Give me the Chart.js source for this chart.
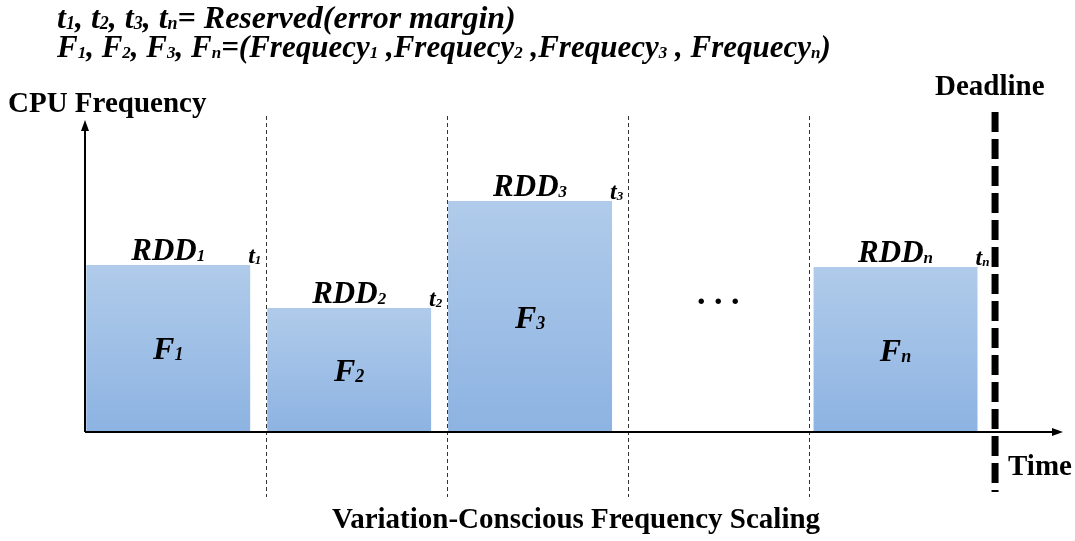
<!DOCTYPE html>
<html>
<head>
<meta charset="utf-8">
<script src="https://cdn.jsdelivr.net/npm/chart.js@4.4.0/dist/chart.umd.min.js"></script>
<style>
  html, body { margin: 0; padding: 0; background: #fff; }
</style>
</head>
<body>
<canvas id="myChart" width="1075" height="541"></canvas>
<script>
// task data (time in slot units, frequency in arbitrary units)
const taskSubs = ['1', '2', '3', 'n'];
const taskTimes = [0.46, 1.46, 2.46, 4.48];
const taskFreqs = [5.39, 4.0, 7.45, 5.32];
const slotBounds = [1, 2, 3, 4];
const gapSlot = 3.5;          // empty slot with the dots
const deadlineTime = 5.03;
const timeMax = 5.4;
const freqMax = 10;

const headerLines = [
  't_1, t_2, t_3, t_n= Reserved(error margin)',
  'F_1, F_2, F_3, F_n=(Frequecy_1 ,Frequecy_2 ,Frequecy_3 , Frequecy_n)'
];

const SERIF = '"Liberation Serif", "Times New Roman", serif';

// draws text where _x means subscript x
function drawRich(ctx, text, x, y, size, align) {
  const parts = text.split(/(_\w)/).filter(p => p.length);
  const bigFont = 'italic bold ' + size + 'px ' + SERIF;
  const subFont = 'italic bold ' + Math.round(size * 0.56) + 'px ' + SERIF;
  let w = 0;
  parts.forEach(p => {
    ctx.font = p[0] === '_' ? subFont : bigFont;
    w += ctx.measureText(p[0] === '_' ? p.slice(1) : p).width;
  });
  let cx = x;
  if (align === 'center') cx = x - w / 2;
  ctx.textAlign = 'left';
  ctx.textBaseline = 'alphabetic';
  parts.forEach(p => {
    if (p[0] === '_') {
      ctx.font = subFont;
      ctx.fillText(p.slice(1), cx, y + 1);
      cx += ctx.measureText(p.slice(1)).width;
    } else {
      ctx.font = bigFont;
      ctx.fillText(p, cx, y);
      cx += ctx.measureText(p).width;
    }
  });
}

const diagramPlugin = {
  id: 'diagram',
  beforeDatasetsDraw(chart) {
    const ctx = chart.ctx;
    const xs = chart.scales.x;
    ctx.save();
    // slot separators
    ctx.strokeStyle = '#333';
    ctx.lineWidth = 1;
    ctx.setLineDash([4, 3]);
    slotBounds.forEach(t => {
      const px = Math.round(xs.getPixelForValue(t)) + 0.5;
      ctx.beginPath();
      ctx.moveTo(px, 116);
      ctx.lineTo(px, 497);
      ctx.stroke();
    });
    ctx.restore();
  },
  afterDatasetsDraw(chart) {
    const ctx = chart.ctx;
    const xs = chart.scales.x;
    const ys = chart.scales.y;
    const area = chart.chartArea;
    const x0 = xs.getPixelForValue(0);
    const y0 = ys.getPixelForValue(0);
    ctx.save();
    ctx.fillStyle = '#000';
    ctx.strokeStyle = '#000';

    // axes with arrows
    ctx.lineWidth = 2;
    ctx.beginPath();
    ctx.moveTo(x0, y0);
    ctx.lineTo(x0, area.top + 6);
    ctx.moveTo(x0, y0);
    ctx.lineTo(area.right - 6, y0);
    ctx.stroke();
    ctx.beginPath();
    ctx.moveTo(x0, area.top - 2);
    ctx.lineTo(x0 - 4, area.top + 9);
    ctx.lineTo(x0 + 4, area.top + 9);
    ctx.closePath();
    ctx.fill();
    ctx.beginPath();
    ctx.moveTo(area.right + 1, y0);
    ctx.lineTo(area.right - 10, y0 - 4);
    ctx.lineTo(area.right - 10, y0 + 4);
    ctx.closePath();
    ctx.fill();

    // deadline
    const dx = xs.getPixelForValue(deadlineTime);
    ctx.lineWidth = 7;
    ctx.setLineDash([20, 7]);
    ctx.beginPath();
    ctx.moveTo(dx, 112);
    ctx.lineTo(dx, 492);
    ctx.stroke();
    ctx.setLineDash([]);

    // bar labels
    const meta = chart.getDatasetMeta(0);
    meta.data.forEach((bar, i) => {
      const s = taskSubs[i];
      drawRich(ctx, 'RDD_' + s, bar.x, bar.y - 5, 31, 'center');
      drawRich(ctx, 't_' + s, bar.x + bar.width / 2 - 2, bar.y - 2, 24, 'left');
      drawRich(ctx, 'F_' + s, bar.x, (bar.y + bar.base) / 2 + 11, 32, 'center');
    });

    // dots in the empty slot
    ctx.font = 'bold 34px ' + SERIF;
    ctx.textAlign = 'center';
    ctx.textBaseline = 'alphabetic';
    ctx.fillText('. . .', xs.getPixelForValue(gapSlot), 304);

    // plain labels
    ctx.font = 'bold 29px ' + SERIF;
    ctx.textAlign = 'left';
    ctx.fillText('CPU Frequency', 8, 112);
    ctx.fillText('Deadline', 935, 95);
    ctx.fillText('Time', 1008, 475);
    ctx.textAlign = 'center';
    ctx.fillText('Variation-Conscious Frequency Scaling', 576, 528);

    // header
    drawRich(ctx, headerLines[0], 57, 28, 32, 'left');
    drawRich(ctx, headerLines[1], 57, 57, 31, 'left');
    ctx.restore();
  }
};

function barFill(context) {
  const chart = context.chart;
  const ys = chart.scales.y;
  const fallback = '#a3c2e7';
  if (!ys || !context.parsed) return fallback;
  const top = ys.getPixelForValue(context.parsed.y);
  const bottom = ys.getPixelForValue(0);
  if (!isFinite(top) || !isFinite(bottom) || top === bottom) return fallback;
  const g = chart.ctx.createLinearGradient(0, top, 0, bottom);
  g.addColorStop(0, '#b0cbea');
  g.addColorStop(1, '#8db3e2');
  return g;
}

const data = {
  datasets: [{
    label: 'CPU Frequency',
    data: taskTimes.map((t, i) => ({x: t, y: taskFreqs[i]})),
    backgroundColor: barFill,
    borderWidth: 0,
    barPercentage: 0.906,
    categoryPercentage: 1.0,
  }]
};

const config = {
  type: 'bar',
  data: data,
  options: {
    responsive: false,
    animation: false,
    layout: { padding: { left: 85, right: 13, top: 122, bottom: 109 } },
    plugins: { legend: { display: false }, tooltip: { enabled: false } },
    scales: {
      x: {
        type: 'linear',
        display: false,
        offset: false,
        min: 0,
        max: timeMax,
        afterBuildTicks: (scale) => {
          scale.ticks = [0, 1, 2, 3, 4, 5].map(v => ({value: v}));
        }
      },
      y: {
        display: false,
        min: 0,
        max: freqMax,
      }
    }
  },
  plugins: [diagramPlugin]
};

const myChart = new Chart(document.getElementById('myChart'), config);
</script>
</body>
</html>
